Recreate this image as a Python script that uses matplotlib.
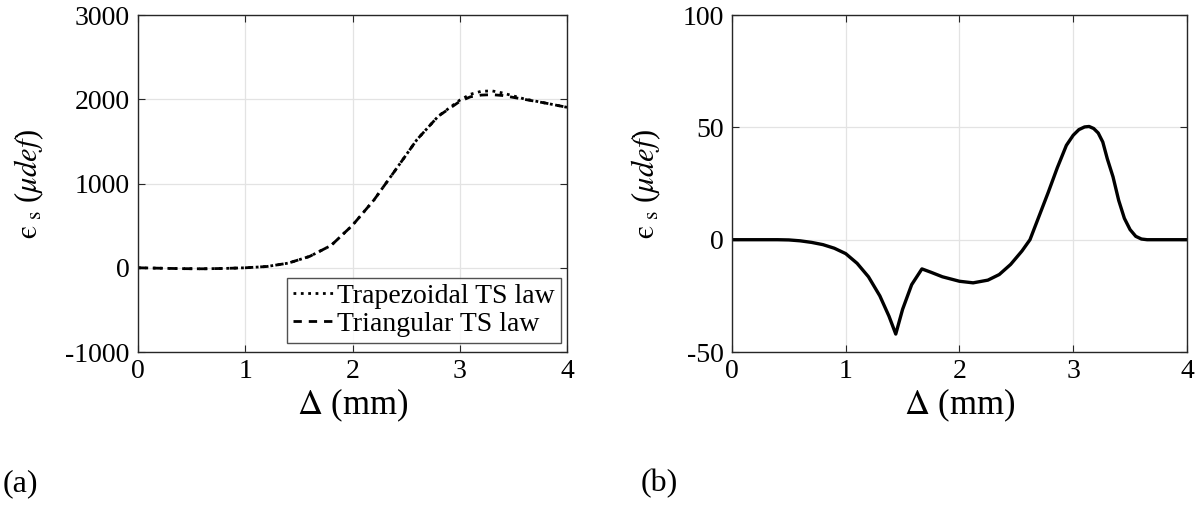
import matplotlib
matplotlib.use('Agg')
import matplotlib.pyplot as plt

plt.rcParams['font.family'] = ['Liberation Serif', 'DejaVu Serif']
plt.rcParams['mathtext.fontset'] = 'stix'
plt.rcParams['axes.unicode_minus'] = False

# (a) strain vs delta for the two TS laws
xa = [0, 0.2, 0.4, 0.6, 0.8, 1.0, 1.2, 1.4, 1.6, 1.8, 2.0, 2.2, 2.4, 2.6, 2.8, 3.0, 3.1, 3.2, 3.3, 3.4, 3.6, 3.8, 4.0]
trap = [0, -5, -10, -12, -8, 0, 15, 55, 135, 265, 505, 805, 1160, 1520, 1800, 1990, 2060, 2095, 2100, 2075, 2005, 1955, 1905]
tri = [0, -5, -10, -12, -8, 0, 15, 55, 135, 265, 505, 805, 1160, 1520, 1800, 1975, 2030, 2050, 2055, 2045, 2000, 1955, 1905]

# (b) difference
xb = [0, 0.4, 0.5, 0.6, 0.7, 0.8, 0.9, 1.0, 1.1, 1.2, 1.3, 1.38, 1.44, 1.5, 1.58, 1.67, 1.75, 1.85, 2.0, 2.12,
      2.25, 2.35, 2.45, 2.55, 2.62, 2.7, 2.78, 2.86, 2.94, 3.0, 3.05, 3.1, 3.14, 3.18, 3.22, 3.26, 3.3, 3.35,
      3.4, 3.45, 3.5, 3.55, 3.6, 3.65, 4.0]
yb = [0, 0, -0.1, -0.5, -1.2, -2.2, -3.8, -6.2, -10.5, -16.5, -25, -34, -42, -31, -20, -13, -14.5, -16.5, -18.5,
      -19.2, -18, -15.5, -11, -5, 0, 10.5, 21, 32, 42, 46.5, 49, 50.2, 50.4, 49.5, 47.5, 43.5, 36, 28,
      17.5, 9.5, 4.5, 1.5, 0.3, 0, 0]

ylab = r'$\mathrm{ϵ}_{\ \mathrm{s}}$ ($\mu def$)'

fig = plt.figure(figsize=(11.97, 5.09), dpi=100)
ax1 = fig.add_axes([0.1153, 0.3084, 0.3584, 0.662])
ax2 = fig.add_axes([0.6115, 0.3084, 0.3801, 0.662])

ax1.plot(xa, trap, ':', color='k', lw=2, label='Trapezoidal TS law')
ax1.plot(xa, tri, '--', color='k', lw=2, dashes=(3, 2.5), label='Triangular TS law')
ax1.set_ylim(-1000, 3000)
ax1.set_yticks([-1000, 0, 1000, 2000, 3000])
leg = ax1.legend(loc='lower right', bbox_to_anchor=(0.985, 0.028), borderaxespad=0, fontsize=20,
                 fancybox=False, handlelength=1.5, handletextpad=0.1, borderpad=0.2, labelspacing=0.1)
leg.get_frame().set_edgecolor('#262626')
leg.get_frame().set_linewidth(1)

ax2.plot(xb, yb, '-', color='k', lw=2.4)
ax2.set_ylim(-50, 100)
ax2.set_yticks([-50, 0, 50, 100])

for ax in (ax1, ax2):
    ax.set_xlim(0, 4)
    ax.set_xticks([0, 1, 2, 3, 4])
    ax.grid(True, color='#e3e3e3', lw=0.9)
    ax.set_axisbelow(True)
    ax.tick_params(direction='in', length=5, labelsize=20, pad=6, top=True, right=True, color='#262626')
    ax.tick_params(axis='x', pad=5)
    for s in ax.spines.values():
        s.set_color('#262626')
        s.set_linewidth(1)
    ax.set_xlabel(r'$\Delta$ (mm)', fontsize=25, labelpad=2)
    ax.set_ylabel(ylab, fontsize=22, labelpad=14)

fig.text(0.002, 0.035, '(a)', fontsize=23)
fig.text(0.535, 0.035, '(b)', fontsize=23)

fig.savefig('out.png', dpi=100)
